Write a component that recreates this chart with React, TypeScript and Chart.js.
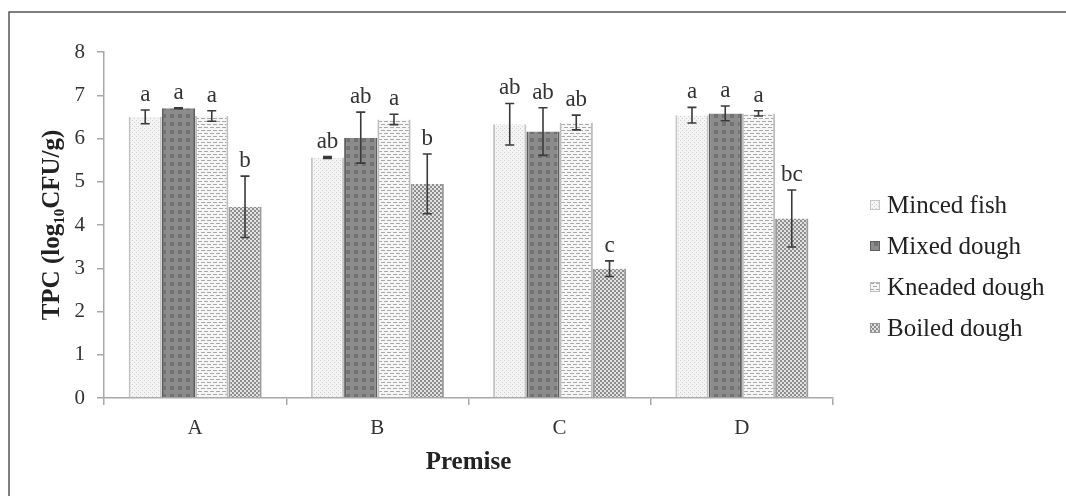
import React, { useEffect, useRef } from "react";
import { Chart, registerables } from "chart.js";

Chart.register(...registerables);

const categories = ["A", "B", "C", "D"];
const seriesNames = ["Minced fish", "Mixed dough", "Kneaded dough", "Boiled dough"];

const mincedFish = [6.5, 5.56, 6.33, 6.54];
const mixedDough = [6.7, 6.02, 6.16, 6.58];
const kneadedDough = [6.52, 6.44, 6.37, 6.58];
const boiledDough = [4.42, 4.95, 2.99, 4.15];

const mincedFishErr = [0.16, 0.02, 0.48, 0.18];
const mixedDoughErr = [0.01, 0.59, 0.55, 0.17];
const kneadedDoughErr = [0.12, 0.12, 0.17, 0.06];
const boiledDoughErr = [0.71, 0.69, 0.18, 0.66];

const mincedFishLetters = ["a", "ab", "ab", "a"];
const mixedDoughLetters = ["a", "ab", "ab", "a"];
const kneadedDoughLetters = ["a", "a", "ab", "a"];
const boiledDoughLetters = ["b", "b", "c", "bc"];

const yMin = 0;
const yMax = 8;
const yStep = 1;

const SERIF = "'Liberation Serif', 'Times New Roman', 'DejaVu Serif', serif";

function makePattern(kind: number): CanvasPattern | string {
  const c = document.createElement("canvas");
  const g = c.getContext("2d");
  if (!g) return "#ccc";
  if (kind === 0) {
    c.width = 4; c.height = 4;
    g.fillStyle = "#f4f4f4"; g.fillRect(0, 0, 4, 4);
    g.fillStyle = "#cfcfcf"; g.fillRect(0, 0, 1, 1); g.fillRect(2, 2, 1, 1);
  } else if (kind === 1) {
    c.width = 8; c.height = 8;
    g.fillStyle = "#8c8c8c"; g.fillRect(0, 0, 8, 8);
    g.fillStyle = "#727272"; g.fillRect(2, 2, 4, 4);
  } else if (kind === 2) {
    c.width = 6; c.height = 6;
    g.fillStyle = "#f6f6f6"; g.fillRect(0, 0, 6, 6);
    g.fillStyle = "#a8a8a8"; g.fillRect(0, 1, 4, 1); g.fillRect(3, 4, 4, 1); g.fillRect(0, 4, 1, 1);
  } else {
    c.width = 4; c.height = 4;
    g.fillStyle = "#e2e2e2"; g.fillRect(0, 0, 4, 4);
    g.fillStyle = "#8e8e8e"; g.fillRect(0, 0, 2, 2); g.fillRect(2, 2, 2, 2);
  }
  return g.createPattern(c, "repeat") || "#ccc";
}

export default function App() {
  const ref = useRef<HTMLCanvasElement | null>(null);

  useEffect(() => {
    if (!ref.current) return;
    const values = [mincedFish, mixedDough, kneadedDough, boiledDough];
    const errors = [mincedFishErr, mixedDoughErr, kneadedDoughErr, boiledDoughErr];
    const letters = [mincedFishLetters, mixedDoughLetters, kneadedDoughLetters, boiledDoughLetters];
    const borders = ["#c4c4c4", "#5e5e5e", "#bdbdbd", "#9a9a9a"];
    const fills = [0, 1, 2, 3].map((k) => makePattern(k));

    const overlay = {
      id: "overlay",
      afterDatasetsDraw(chart: any) {
        const ctx = chart.ctx;
        const y = chart.scales.y;
        ctx.save();
        chart.data.datasets.forEach((ds: any, di: number) => {
          const meta = chart.getDatasetMeta(di);
          meta.data.forEach((bar: any, i: number) => {
            const v = ds.data[i];
            const e = errors[di][i];
            const yt = y.getPixelForValue(v + e);
            const yb = y.getPixelForValue(v - e);
            const x = bar.x;
            ctx.strokeStyle = "#3a3a3a";
            ctx.lineWidth = 1.6;
            ctx.beginPath();
            ctx.moveTo(x, yt); ctx.lineTo(x, yb);
            ctx.moveTo(x - 4.5, yt); ctx.lineTo(x + 4.5, yt);
            ctx.moveTo(x - 4.5, yb); ctx.lineTo(x + 4.5, yb);
            ctx.stroke();
            ctx.fillStyle = "#333";
            ctx.font = `23px ${SERIF}`;
            ctx.textAlign = "center";
            ctx.textBaseline = "alphabetic";
            ctx.fillText(letters[di][i], x, yt - 9);
          });
        });
        ctx.restore();
      },
      afterDraw(chart: any) {
        const ctx = chart.ctx;
        const area = chart.chartArea;
        ctx.save();
        const lx = area.right + 37;
        const y0 = 205;
        const gap = 41;
        chart.data.datasets.forEach((ds: any, di: number) => {
          const cy = y0 + di * gap;
          ctx.fillStyle = fills[di];
          ctx.fillRect(lx, cy - 5, 10, 10);
          ctx.strokeStyle = borders[di];
          ctx.lineWidth = 1;
          ctx.strokeRect(lx + 0.5, cy - 4.5, 9, 9);
          ctx.fillStyle = "#222";
          ctx.font = `25px ${SERIF}`;
          ctx.textAlign = "left";
          ctx.textBaseline = "middle";
          ctx.fillText(ds.label, lx + 17, cy + 1);
        });
        ctx.strokeStyle = "#555";
        ctx.lineWidth = 1.5;
        ctx.beginPath();
        ctx.moveTo(9, chart.height);
        ctx.lineTo(9, 12);
        ctx.lineTo(chart.width, 12);
        ctx.stroke();
        ctx.restore();
      },
    };

    const chart = new Chart(ref.current, {
      type: "bar",
      data: {
        labels: categories,
        datasets: seriesNames.map((name, i) => ({
          label: name,
          data: values[i],
          backgroundColor: fills[i] as any,
          borderColor: borders[i],
          borderWidth: { left: 2, right: 2, top: 0, bottom: 0 },
          borderSkipped: false,
          barPercentage: 1,
          categoryPercentage: 0.73,
        })),
      },
      options: {
        animation: false,
        responsive: true,
        maintainAspectRatio: false,
        layout: { padding: { left: 30, right: 233, top: 52, bottom: 0 } },
        plugins: { legend: { display: false }, tooltip: { enabled: false } },
        scales: {
          x: {
            grid: { drawOnChartArea: false, tickLength: 7, offset: true, color: "#a8a8a8", lineWidth: 1.5 },
            border: { color: "#a8a8a8", width: 1.5 },
            ticks: { font: { family: SERIF, size: 21 }, color: "#333", padding: 11 },
            title: {
              display: true,
              text: "Premise",
              font: { family: SERIF, size: 25, weight: "bold" },
              color: "#222",
              padding: { top: 0, bottom: 18 },
            },
            afterFit: (s: any) => { s.height = 98; },
          },
          y: {
            min: yMin,
            max: yMax,
            ticks: { stepSize: yStep, font: { family: SERIF, size: 21 }, color: "#333", padding: 12 },
            grid: { drawOnChartArea: false, tickLength: 7, color: "#a8a8a8", lineWidth: 1.5 },
            border: { color: "#a8a8a8", width: 1.5 },
            title: {
              display: true,
              text: "TPC (log\u2081\u2080CFU/g)",
              font: { family: SERIF, size: 25, weight: "bold" },
              color: "#222",
              padding: { top: 8, bottom: 0 },
            },
            afterFit: (s: any) => { s.width = 74; },
          },
        },
      },
      plugins: [overlay],
    });
    return () => chart.destroy();
  }, []);

  return (
    <div style={{ position: "fixed", left: 0, top: 0, width: 1066, height: 496, background: "#fff" }}>
      <canvas ref={ref} />
    </div>
  );
}
